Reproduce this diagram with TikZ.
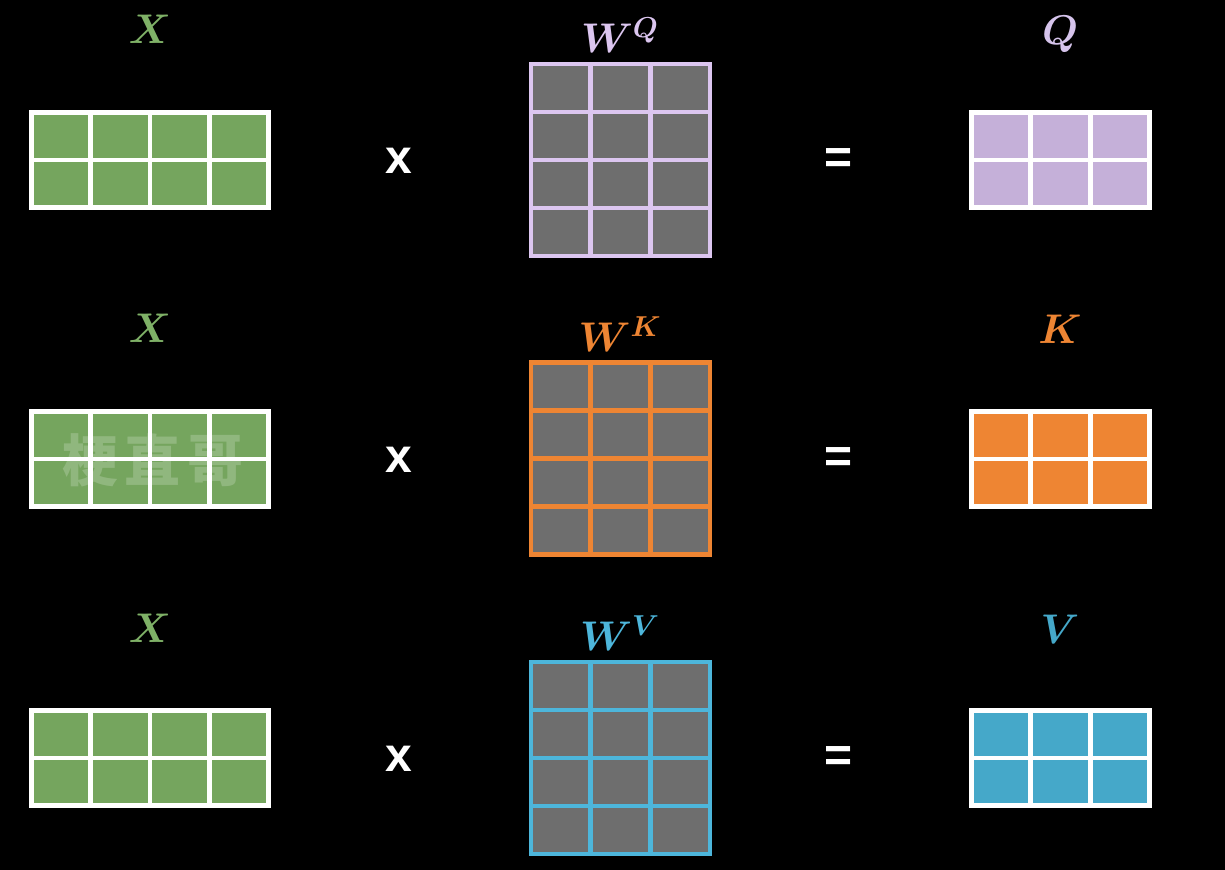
\documentclass[tikz,border=0pt]{standalone}
\usepackage{fontspec}
\newfontfamily\opsans{Liberation Sans}
\newfontfamily\cjkfont{Noto Sans CJK SC}
\usetikzlibrary{calc}
\definecolor{xgreen}{HTML}{75A55E}
\definecolor{xlabel}{HTML}{7FB167}
\definecolor{qfill}{HTML}{C5B0D9}
\definecolor{qline}{HTML}{DCC6F0}
\definecolor{qlabel}{HTML}{D6C4EC}
\definecolor{kor}{HTML}{EE8533}
\definecolor{vblue}{HTML}{45A8C9}
\definecolor{vline}{HTML}{4DB6DB}
\definecolor{cellgray}{HTML}{6E6E6E}
\tikzset{
  mat/.style={inner sep=0pt, outer sep=0pt, line width=2.4pt},
  lab/.style={anchor=base, font=\boldmath\fontsize{19.5}{24}\selectfont},
  opsym/.style={text=white, font=\opsans\bfseries\fontsize{24}{28}\selectfont},
  wmark/.style={text=white, opacity=0.2, font=\cjkfont\bfseries\fontsize{28}{32}\selectfont}
}
% name, cx, cy, cols, rows, width(pt), height(pt), fill, line
\newcommand{\gridmat}[9]{%
  \node[mat, draw=#9, fill=#8, minimum width=#6, minimum height=#7] (#1) at (#2,#3) {};
  \foreach \i in {1,...,\numexpr#4-1\relax}{
    \draw[line width=2.4pt, #9] ($(#1.north west)!\i/#4!(#1.north east)$) -- ($(#1.south west)!\i/#4!(#1.south east)$);
  }
  \foreach \j in {1,...,\numexpr#5-1\relax}{
    \draw[line width=2.4pt, #9] ($(#1.north west)!\j/#5!(#1.south west)$) -- ($(#1.north east)!\j/#5!(#1.south east)$);
  }
  \draw[line width=2.4pt, #9] (#1.north west) rectangle (#1.south east);
}
\begin{document}
\begin{tikzpicture}[x=0.5pt, y=-0.5pt]
\fill[black] (0,0) rectangle (1225,870);
\useasboundingbox (0,0) rectangle (1225,870);

% Row 1
\gridmat{x1}{150}{160}{4}{2}{118.5pt}{47.5pt}{xgreen}{white}
\gridmat{wq}{620.5}{160}{3}{4}{89.5pt}{96pt}{cellgray}{qline}
\gridmat{q}{1060.5}{160}{3}{2}{89pt}{47.5pt}{qfill}{white}
\node[lab, text=xlabel] (lx1) at (150,44) {$X$};
\node[lab, text=qline] (lwq) at (620,53) {$W^Q$};
\node[lab, text=qlabel] (lq) at (1060,45) {$Q$};
\node[opsym] (t1) at (399,161) {x};
\node[opsym] (e1) at (839,161) {=};

% Row 2
\gridmat{x2}{150}{459}{4}{2}{118.5pt}{47.5pt}{xgreen}{white}
\gridmat{wk}{620.5}{458.5}{3}{4}{89.5pt}{96pt}{cellgray}{kor}
\gridmat{k}{1060.5}{459}{3}{2}{89pt}{47.5pt}{kor}{white}
\node[lab, text=xlabel] (lx2) at (150,343) {$X$};
\node[lab, text=kor] (lwk) at (620,352) {$W^K$};
\node[lab, text=kor] (lk) at (1060,344) {$K$};
\node[opsym] (t2) at (399,460) {x};
\node[opsym] (e2) at (839,460) {=};
\node[wmark] (wm) at (153,460) {梗\hspace{0.12em}直\hspace{0.12em}哥};

% Row 3
\gridmat{x3}{150}{758}{4}{2}{118.5pt}{47.5pt}{xgreen}{white}
\gridmat{wv}{620.5}{758}{3}{4}{89.5pt}{96pt}{cellgray}{vline}
\gridmat{v}{1060.5}{758}{3}{2}{89pt}{47.5pt}{vblue}{white}
\node[lab, text=xlabel] (lx3) at (150,642) {$X$};
\node[lab, text=vline] (lwv) at (620,651) {$W^V$};
\node[lab, text=vblue] (lv) at (1060,643) {$V$};
\node[opsym] (t3) at (399,759) {x};
\node[opsym] (e3) at (839,759) {=};
\end{tikzpicture}
\end{document}
